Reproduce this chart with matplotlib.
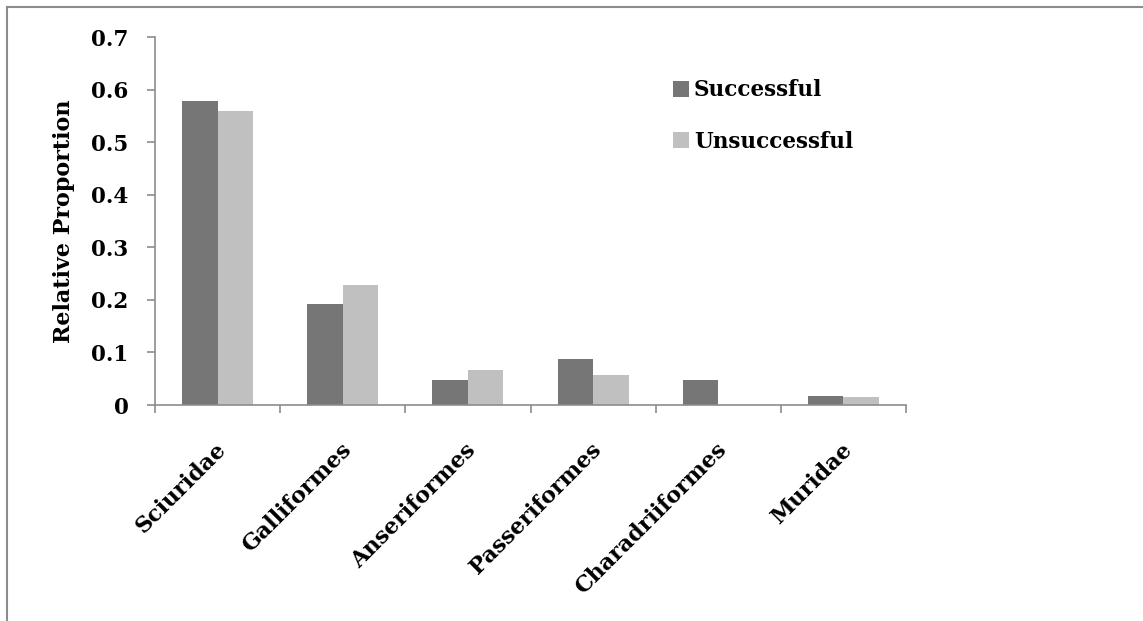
import numpy as np
import matplotlib
matplotlib.use("Agg")
import matplotlib.pyplot as plt
from matplotlib.lines import Line2D

plt.rcParams['font.family'] = ['DejaVu Serif']
plt.rcParams['font.weight'] = 'bold'

categories = ['Sciuridae', 'Galliformes', 'Anseriformes', 'Passeriformes',
              'Charadriiformes', 'Muridae']
successful = [0.578, 0.192, 0.048, 0.088, 0.048, 0.017]
unsuccessful = [0.559, 0.229, 0.067, 0.058, 0.0, 0.015]

dark = '#767676'
light = '#c0c0c0'
axis_gray = '#8c8c8c'

fig = plt.figure(figsize=(11.43, 6.21), dpi=100)
ax = fig.add_axes([0.1356, 0.3478, 0.6571, 0.5926])

x = np.arange(len(categories))
w = 0.284
ax.bar(x - w / 2, successful, w, color=dark, label='Successful')
ax.bar(x + w / 2, unsuccessful, w, color=light, label='Unsuccessful')

ax.set_xlim(-0.5, len(categories) - 0.5)
ax.set_ylim(0, 0.7)
ax.set_yticks(np.arange(0, 0.71, 0.1))
ax.set_yticklabels(['0', '0.1', '0.2', '0.3', '0.4', '0.5', '0.6', '0.7'])

# category labels; tick marks sit on the category boundaries
ax.set_xticks(x + 0.04)
ax.set_xticklabels(categories, rotation=45, ha='right', va='center',
                   rotation_mode='anchor', fontsize=16, fontweight='bold')
ax.tick_params(axis='x', length=0, pad=30)
ax.set_xticks(np.arange(-0.5, len(categories)), minor=True)
ax.tick_params(axis='x', which='minor', length=6, width=1.2, color=axis_gray, direction='out')
ax.tick_params(axis='y', length=6, width=1.2, color=axis_gray, labelsize=15.5, pad=13)

for s in ['top', 'right']:
    ax.spines[s].set_visible(False)
for s in ['left', 'bottom']:
    ax.spines[s].set_color(axis_gray)
    ax.spines[s].set_linewidth(1.2)

ax.set_ylabel('Relative Proportion', fontsize=16, fontweight='bold', labelpad=12)

fig.legend(loc='upper left', bbox_to_anchor=(0.589, 0.872), frameon=False,
           fontsize=15.5, handlelength=0.72, handleheight=0.72, handletextpad=0.25,
           labelspacing=1.35, borderpad=0, borderaxespad=0)

# chart area frame (only top and left edges visible)
fig.add_artist(Line2D([7 / 1143, 7 / 1143], [0, 1 - 7 / 621], transform=fig.transFigure,
                      color=axis_gray, lw=1.5))
fig.add_artist(Line2D([7 / 1143, 1], [1 - 7 / 621, 1 - 7 / 621], transform=fig.transFigure,
                      color=axis_gray, lw=1.5))

plt.savefig('out.png', format='png', dpi=100)
